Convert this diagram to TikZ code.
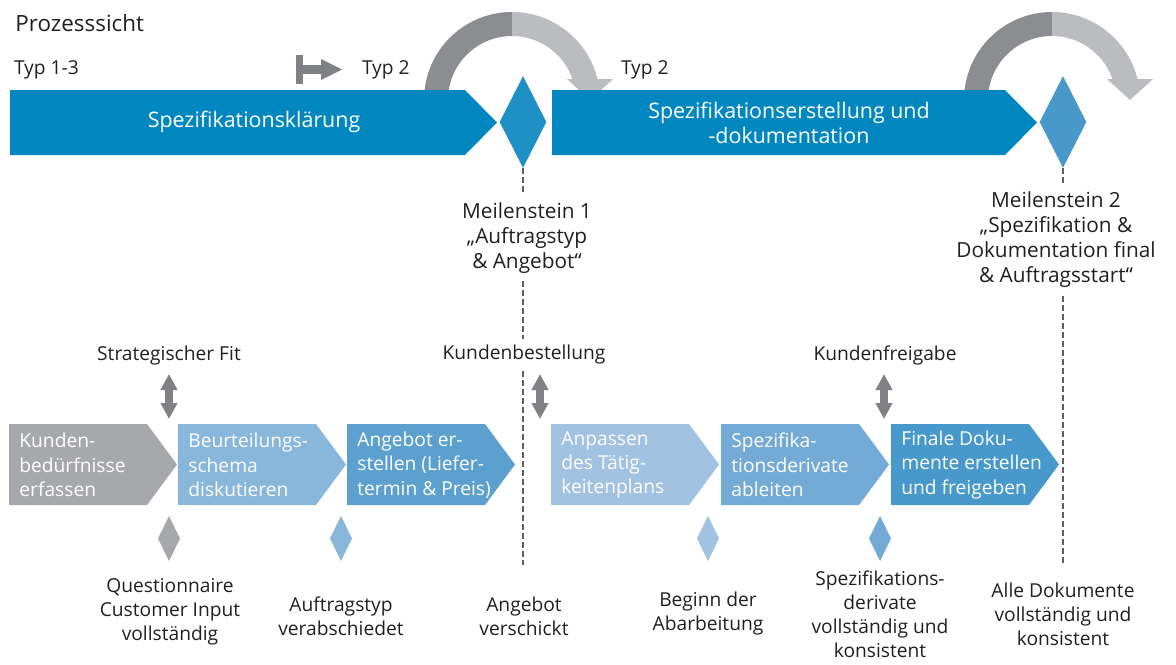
\documentclass[tikz,border=0pt]{standalone}
\usepackage{fontspec}
\setmainfont{Open Sans}
\usepackage{xcolor}
\usepackage{tikz}
\usetikzlibrary{arrows.meta,shapes.geometric,positioning}
\definecolor{barblue}{RGB}{0,135,191}
\definecolor{msblueA}{RGB}{30,144,196}
\definecolor{msblueB}{RGB}{72,153,202}
\definecolor{arcdark}{RGB}{140,141,144}
\definecolor{arclight}{RGB}{186,188,191}
\definecolor{icongray}{RGB}{128,129,132}
\definecolor{dashgray}{RGB}{95,95,97}
\definecolor{txtgray}{RGB}{35,31,32}
\definecolor{chevA}{RGB}{167,168,171}
\definecolor{chevB}{RGB}{137,182,219}
\definecolor{chevC}{RGB}{91,160,206}
\definecolor{chevD}{RGB}{161,194,225}
\definecolor{chevE}{RGB}{115,170,214}
\definecolor{chevF}{RGB}{71,152,203}

\begin{document}
\begin{tikzpicture}[x = 0.5pt, y = -0.5pt,
  lbl/.style = {align = center, text = txtgray, inner sep = 0pt, outer sep = 3pt, font = \fontsize{9.6}{12}\selectfont},
  mslbl/.style = {align = center, text = txtgray, inner sep = 0pt, outer sep = 4pt, font = \fontsize{10.4}{12.5}\selectfont},
  bartxt/.style = {align = center, text = white, inner sep = 0pt, font = \fontsize{10.7}{12.2}\selectfont},
  steptxt/.style = {align = left, anchor = west, text = white, inner sep = 0pt, font = \fontsize{9.6}{12.2}\selectfont},
  msdiamond/.style = {diamond, inner sep = 0pt, minimum width = 23.5pt, minimum height = 46pt},
  dashline/.style = {dashgray, line width = 1.3pt, dash pattern = on 3pt off 1.5pt},
  dblarrow/.style = {icongray, line width = 4pt, {Triangle[length = 8pt, width = 8pt]}-{Triangle[length = 8pt, width = 8pt]}}]
\useasboundingbox (0,0) rectangle (1176,664);

\node[anchor = base west, text = txtgray, inner sep = 0pt, font = \fontsize{11.2}{13}\selectfont] (title) at (15,32) {Prozesssicht};
\node[lbl, anchor = base west, inner sep = 0pt, outer sep = 0pt] (typA) at (14,74) {Typ 1-3};
\node[lbl, anchor = base west, inner sep = 0pt, outer sep = 0pt] (typB) at (362,74) {Typ 2};
\node[lbl, anchor = base west, inner sep = 0pt, outer sep = 0pt] (typC) at (621,74) {Typ 2};

\fill[icongray] (296,55) rectangle (303,84);
\fill[icongray] (303,65) rectangle (322,74);
\fill[icongray] (321,59) -- (342,69.5) -- (321,80) -- cycle;

\foreach \cx in {512,1052} {
  \fill[arcdark] (\cx-88,100) arc[start angle = 180, end angle = 270, radius = 88] -- (\cx,36) arc[start angle = 270, end angle = 180, radius = 64] -- cycle;
  \fill[arclight] (\cx,12) arc[start angle = 270, end angle = 346.19, radius = 88] -- (\cx+101,79) -- (\cx+78,100) -- (\cx+55,79) -- (\cx+60.45,79) arc[start angle = 340.84, end angle = 270, radius = 64] -- cycle;
}

\fill[barblue] (10,90) -- (465,90) -- (497,122.5) -- (465,155) -- (10,155) -- cycle;
\fill[barblue] (552,90) -- (1005,90) -- (1037,122.5) -- (1005,155) -- (552,155) -- cycle;
\node[bartxt] (phaseA) at (254,122) {Spezifikationsklärung};
\node[bartxt] (phaseB) at (789,123) {Spezifikationserstellung und\\-dokumentation};

\node[msdiamond, fill = msblueA] (msA) at (523,122) {};
\node[msdiamond, fill = msblueB] (msB) at (1063,122) {};
\node[mslbl] (msAtxt) at (527,238) {Meilenstein 1\\„Auftragstyp\\\& Angebot“};
\node[mslbl] (msBtxt) at (1056,240) {Meilenstein 2\\„Spezifikation \&\\Dokumentation final\\\& Auftragsstart“};

\node[lbl] (fit) at (169,356) {Strategischer Fit};
\node[lbl] (order) at (524,355) {Kundenbestellung};
\node[lbl] (release) at (885,355) {Kundenfreigabe};

\coordinate (msAend) at (523,565);
\coordinate (msBend) at (1063,565);
\draw[dashline] (msA.south) -- (msA.south |- msAtxt.north);
\draw[dashline] (msA.south |- msAtxt.south) -- (msA.south |- order.north);
\draw[dashline] (msA.south |- order.south) -- (msAend);
\draw[dashline] (msB.south) -- (msB.south |- msBtxt.north);
\draw[dashline] (msB.south |- msBtxt.south) -- (msBend);

\coordinate (fitA) at (169,374);
\coordinate (fitB) at (169,419);
\coordinate (orderA) at (540,374);
\coordinate (orderB) at (540,419);
\coordinate (releaseA) at (884,374);
\coordinate (releaseB) at (884,419);
\draw[dblarrow] (fitA) -- (fitB);
\draw[dblarrow] (orderA) -- (orderB);
\draw[dblarrow] (releaseA) -- (releaseB);

\foreach \n/\xa/\c/\t in {A/9/chevA/{Kunden-\\bedürfnisse\\erfassen}, B/178/chevB/{Beurteilungs-\\schema\\diskutieren}, C/347/chevC/{Angebot er-\\stellen (Liefer-\\termin \& Preis)}, D/551/chevD/{Anpassen\\des Tätig-\\keitenplans}, E/721/chevE/{Spezifika-\\tionsderivate\\ableiten}, F/891/chevF/{Finale Doku-\\mente erstellen\\und freigeben}} {
  \fill[\c] (\xa,424) -- (\xa+138,424) -- (\xa+168,464.5) -- (\xa+138,505) -- (\xa,505) -- cycle;
  \node[steptxt] (step\n) at (\xa+10,465) {\t};
}

\foreach \x/\c in {169/chevA, 341/chevB, 708/chevD, 880/chevE}
  \fill[\c] (\x,516) -- (\x+11,538.5) -- (\x,561) -- (\x-11,538.5) -- cycle;

\node[lbl] (qci) at (170,612) {Questionnaire\\Customer Input\\vollständig};
\node[lbl] (atyp) at (341,616) {Auftragstyp\\verabschiedet};
\node[lbl] (sent) at (524,616) {Angebot\\verschickt};
\node[lbl] (begin) at (708,614) {Beginn der\\Abarbeitung};
\node[lbl] (deriv) at (880,614) {Spezifikations-\\derivate\\vollständig und\\konsistent};
\node[lbl] (alldocs) at (1063,614) {Alle Dokumente\\vollständig und\\konsistent};
\end{tikzpicture}
\end{document}
